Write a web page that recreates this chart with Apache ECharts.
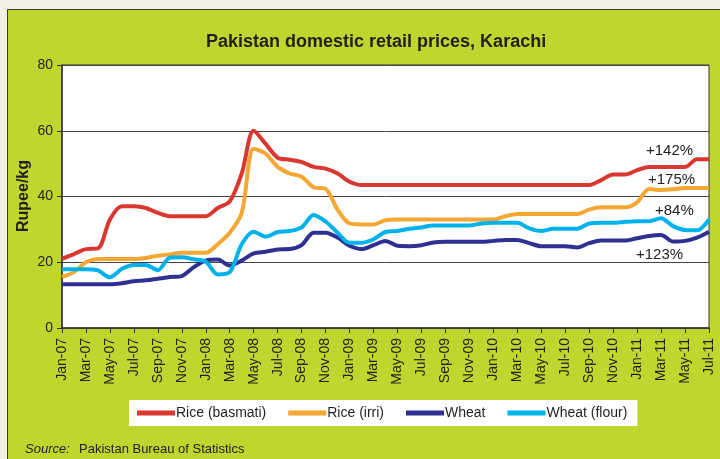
<!DOCTYPE html>
<html>
<head>
<meta charset="utf-8">
<script src="https://cdn.jsdelivr.net/npm/echarts@6/dist/echarts.min.js"></script>
<style>
  html, body { margin: 0; padding: 0; background: #f3efe2; }
  #chart { width: 720px; height: 459px; }
</style>
</head>
<body>
<div id="chart"></div>
<script>
// months Jan-07 .. Jul-11
const months = [
  "Jan-07","Feb-07","Mar-07","Apr-07","May-07","Jun-07","Jul-07","Aug-07","Sep-07","Oct-07","Nov-07","Dec-07",
  "Jan-08","Feb-08","Mar-08","Apr-08","May-08","Jun-08","Jul-08","Aug-08","Sep-08","Oct-08","Nov-08","Dec-08",
  "Jan-09","Feb-09","Mar-09","Apr-09","May-09","Jun-09","Jul-09","Aug-09","Sep-09","Oct-09","Nov-09","Dec-09",
  "Jan-10","Feb-10","Mar-10","Apr-10","May-10","Jun-10","Jul-10","Aug-10","Sep-10","Oct-10","Nov-10","Dec-10",
  "Jan-11","Feb-11","Mar-11","Apr-11","May-11","Jun-11","Jul-11"
];

const riceBasmati = [
  21, 22.5, 24, 24.2, 33, 37, 37, 36.5, 35, 34, 34, 34,
  34, 36.5, 38.5, 47, 60, 56, 51.8, 51.2, 50.5, 49, 48.5, 47,
  44.5, 43.5, 43.5, 43.5, 43.5, 43.5, 43.5, 43.5, 43.5, 43.5, 43.5, 43.5,
  43.5, 43.5, 43.5, 43.5, 43.5, 43.5, 43.5, 43.5, 43.5, 45, 46.7, 46.7,
  48, 49, 49, 49, 49, 51.3, 51.3
];

const riceIrri = [
  15.5, 17, 20, 21, 21, 21, 21, 21.3, 22, 22.4, 22.9, 22.9,
  22.9, 25.5, 29, 35, 54.5, 53, 49, 47, 46, 42.8, 42.3, 36,
  31.8, 31.5, 31.5, 32.8, 33, 33, 33, 33, 33, 33, 33, 33,
  33, 34, 34.7, 34.7, 34.7, 34.7, 34.7, 34.7, 36, 36.7, 36.7, 36.7,
  38.2, 42.3, 42, 42.2, 42.6, 42.6, 42.6
];

const wheat = [
  13.3, 13.3, 13.3, 13.3, 13.3, 13.6, 14.2, 14.5, 15, 15.5, 15.8, 18.5,
  20.5, 20.8, 19, 20.5, 22.7, 23.2, 23.9, 24, 25.2, 29, 29, 27.5,
  25, 24, 25.2, 26.5, 25, 24.9, 25.2, 26, 26.2, 26.2, 26.2, 26.2,
  26.5, 26.8, 26.8, 25.8, 24.9, 24.9, 24.9, 24.5, 25.8, 26.6, 26.6, 26.6,
  27.3, 28, 28.3, 26.3, 26.5, 27.5, 29.3
];

const wheatFlour = [
  17.9, 17.9, 17.9, 17.5, 15.4, 18, 19.2, 19.2, 17.6, 21.4, 21.5, 20.9,
  20.2, 16.3, 17, 25.5, 29.3, 27.8, 29.2, 29.5, 30.6, 34.4, 32.4, 29,
  25.9, 25.9, 27, 29.2, 29.5, 30.2, 30.6, 31.2, 31.2, 31.2, 31.2, 31.8,
  32, 32, 32, 30.3, 29.5, 30.2, 30.2, 30.2, 31.8, 32, 32, 32.3,
  32.5, 32.5, 33.4, 31, 29.8, 29.7, 33
];

const seriesNames = ["Rice (basmati)", "Rice (irri)", "Wheat", "Wheat (flour)"];
const seriesColors = ["#d9372f", "#f5a733", "#2e3192", "#00b2ec"];
const changeLabels = ["+142%", "+175%", "+84%", "+123%"];

const FONT = "Liberation Sans, Arial, sans-serif";
const chart = echarts.init(document.getElementById("chart"));

const mkSeries = (name, data, color) => ({
  name: name,
  type: "line",
  data: data,
  smooth: 0.3,
  symbol: "none",
  lineStyle: { color: color, width: 4 },
  itemStyle: { color: color },
  z: 3
});

const option = {
  backgroundColor: "#f3efe2",
  animation: false,
  textStyle: { fontFamily: FONT },
  graphic: [
    {
      type: "rect",
      z: -10,
      shape: { x: 7.5, y: 9.5, width: 720, height: 460 },
      style: { fill: "#bfd62e", stroke: "#3a3a2a", lineWidth: 1 }
    },
    // y axis title
    {
      type: "text", x: 24, y: 196, rotation: Math.PI / 2, z: 10,
      style: {
        text: "Rupee/kg", font: "bold 16px " + FONT, fill: "#231f20",
        textAlign: "center", textVerticalAlign: "middle"
      }
    },
    { type: "text", x: 646, y: 143, z: 10, style: { text: changeLabels[0], font: "15px " + FONT, fill: "#222" } },
    { type: "text", x: 648, y: 172, z: 10, style: { text: changeLabels[1], font: "15px " + FONT, fill: "#222" } },
    { type: "text", x: 655, y: 203, z: 10, style: { text: changeLabels[2], font: "15px " + FONT, fill: "#222" } },
    { type: "text", x: 636, y: 247, z: 10, style: { text: changeLabels[3], font: "15px " + FONT, fill: "#222" } },
    {
      type: "text", x: 25, y: 443, z: 10,
      style: { text: "Source:", font: "italic 13px " + FONT, fill: "#222" }
    },
    {
      type: "text", x: 79, y: 443, z: 10,
      style: { text: "Pakistan Bureau of Statistics", font: "13px " + FONT, fill: "#222" }
    }
  ],
  title: {
    text: "Pakistan domestic retail prices, Karachi",
    left: 201,
    top: 28,
    textStyle: { fontFamily: FONT, fontSize: 18, fontWeight: "bold", color: "#231f20" }
  },
  legend: {
    data: seriesNames,
    left: 129,
    top: 400,
    backgroundColor: "#ffffff",
    padding: [6, 10, 6, 8],
    itemGap: 22,
    itemWidth: 38,
    itemHeight: 5,
    icon: "rect",
    textStyle: { fontFamily: FONT, fontSize: 14, color: "#231f20", padding: [0, 0, 0, -4] }
  },
  grid: {
    left: 62,
    right: 11,
    top: 65,
    bottom: 131,
    show: true,
    backgroundColor: "#ffffff",
    borderColor: "#333333",
    borderWidth: 1
  },
  xAxis: {
    type: "category",
    boundaryGap: false,
    data: months,
    axisLine: { lineStyle: { color: "#333333", width: 1.5 } },
    axisTick: { interval: 1, length: 5, lineStyle: { color: "#333333" } },
    axisLabel: {
      interval: 1,
      rotate: 90,
      margin: 10,
      fontFamily: FONT,
      fontSize: 14,
      color: "#231f20"
    },
    splitLine: { show: false }
  },
  yAxis: {
    type: "value",
    min: 0,
    max: 80,
    interval: 20,
    axisLine: { show: true, lineStyle: { color: "#333333", width: 1.5 } },
    axisTick: { show: true, length: 5, lineStyle: { color: "#333333" } },
    axisLabel: { margin: 9, fontFamily: FONT, fontSize: 14, color: "#231f20" },
    splitLine: { lineStyle: { color: "#444444", width: 1 } }
  },
  series: [
    mkSeries(seriesNames[0], riceBasmati, seriesColors[0]),
    mkSeries(seriesNames[1], riceIrri, seriesColors[1]),
    mkSeries(seriesNames[2], wheat, seriesColors[2]),
    mkSeries(seriesNames[3], wheatFlour, seriesColors[3])
  ]
};

chart.setOption(option);
</script>
</body>
</html>
